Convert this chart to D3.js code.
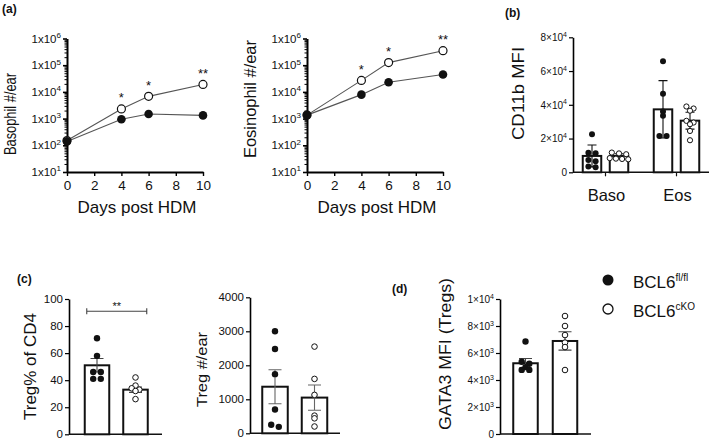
<!DOCTYPE html>
<html><head><meta charset="utf-8">
<script src="https://cdn.jsdelivr.net/npm/d3@7"></script>
<style>
body{margin:0;background:#fff}
svg{display:block}
text{font-family:"Liberation Sans",Arial,Helvetica,sans-serif;fill:#111}
</style>
</head><body>
<svg id="c" width="709" height="442"></svg>
<script>
// ---------------- DATA ----------------
const days = [0, 4, 6, 10];
const dayTicks = [0, 2, 4, 6, 8, 10];
const logTicks = [1e1, 1e2, 1e3, 1e4, 1e5, 1e6];
const basoFl = [140, 950, 1480, 1320];
const basoKO = [150, 2300, 6800, 19000];
const eosFl = [1350, 7900, 23000, 45000];
const eosKO = [1350, 27000, 125000, 350000];
const starDays = [4, 6, 10];
const basoStars = ["*", "*", "**"];
const eosStars = ["*", "*", "**"];

const genotypes = ["fl/fl", "cKO"];
const cellTypes = ["Baso", "Eos"];
const cd11bTicks = [0, 20000, 40000, 60000, 80000];
const cd11bMeanFl = [9700, 37300];
const cd11bMeanKO = [9700, 30600];
const cd11bSdFl = [6500, 17000];
const cd11bSdKO = [1300, 5000];
const cd11bPtsFl = [[22500, 11600, 11300, 7300, 6500, 3000, 3400], [65800, 46500, 36000, 33500, 21500, 21500]];
const cd11bPtsKO = [[11700, 11200, 10700, 8400, 8100, 7900, 7700], [39000, 37800, 36500, 30500, 29500, 28500, 24500, 19000]];

const tregPctTicks = [0, 20, 40, 60, 80, 100];
const tregPctMean = [51, 33];
const tregPctSem = [5, 2];
const tregPctFl = [71, 58, 46, 46, 41, 41];
const tregPctKO = [42, 36, 34, 33, 32, 26];
const tregPctSig = "**";

const tregNumTicks = [0, 1000, 2000, 3000, 4000];
const tregNumMean = [1370, 1050];
const tregNumSem = [500, 370];
const tregNumFl = [3000, 2480, 1740, 700, 250, 190];
const tregNumKO = [2550, 1600, 1130, 520, 440, 200];

const gata3Ticks = [0, 2000, 4000, 6000, 8000, 10000];
const gata3Mean = [5240, 6890];
const gata3Sem = [350, 680];
const gata3Fl = [6850, 5350, 5200, 4950, 4750, 4750];
const gata3KO = [8740, 8000, 7330, 6770, 6440, 4740];

const legendBase = "BCL6";
const legendSup = ["fl/fl", "cKO"];

// ---------------- HELPERS ----------------
const svg = d3.select("#c");
const FONT = '"Liberation Sans", Arial, Helvetica, sans-serif';

function vLabel(txt, cx, cy, fs, len) {
  const t = svg.append("text")
    .attr("transform", `translate(${cx + 0.36 * fs},${cy}) rotate(-90)`)
    .attr("text-anchor", "middle").attr("font-size", fs).text(txt);
  if (len) t.attr("textLength", len).attr("lengthAdjust", "spacingAndGlyphs");
}
function panelTag(txt, x, y) {
  svg.append("text").attr("x", x).attr("y", y).attr("font-size", 12)
    .attr("font-weight", "bold").text(txt);
}
function sci(sel, sep, fs) {
  sel.each(function (d) {
    const t = d3.select(this);
    t.text(null);
    if (d === 0) { t.text("0"); return; }
    const e = Math.floor(Math.log10(d) + 1e-9);
    const m = Math.round(d / Math.pow(10, e));
    t.append("tspan").text(m + sep + "10");
    t.append("tspan").attr("dy", -fs * 0.42).attr("font-size", fs * 0.7).text(e);
  });
}

// ---------------- PANEL (a) ----------------
function logPanel(cfg) {
  const g = svg.append("g");
  const x = d3.scaleLinear().domain([0, 10]).range([cfg.x0, cfg.x1]);
  const y = d3.scaleLog().domain([10, 1e6]).range([cfg.y0, cfg.y1]);
  const minors = [];
  logTicks.slice(0, -1).forEach(t => { for (let k = 2; k <= 9; k++) minors.push(t * k); });
  g.append("g").attr("transform", `translate(${cfg.x0},0)`)
    .call(d3.axisLeft(y).tickValues(minors).tickSize(2.5).tickFormat(""))
    .call(s => s.select(".domain").remove())
    .selectAll("line").attr("stroke", "#000").attr("stroke-width", 1);
  const ya = g.append("g").attr("transform", `translate(${cfg.x0},0)`)
    .call(d3.axisLeft(y).tickValues(logTicks).tickSize(4).tickSizeOuter(0).tickPadding(2))
    .attr("font-family", FONT).attr("font-size", 11.5);
  ya.select(".domain").attr("stroke-width", 2);
  ya.selectAll(".tick line").attr("stroke-width", 1.6);
  ya.selectAll(".tick text").attr("fill", "#111").call(sci, "x", 11.5);

  const xa = g.append("g").attr("transform", `translate(0,${cfg.y0})`)
    .call(d3.axisBottom(x).tickValues(dayTicks).tickSize(4).tickSizeOuter(0).tickPadding(4))
    .attr("font-family", FONT).attr("font-size", 13.5);
  xa.select(".domain").attr("stroke-width", 2);
  xa.selectAll(".tick line").attr("stroke-width", 1.4);
  xa.selectAll(".tick text").attr("fill", "#111");

  svg.append("text").attr("x", (cfg.x0 + cfg.x1) / 2 + 2).attr("y", 213)
    .attr("text-anchor", "middle").attr("font-size", 17).text("Days post HDM");

  const line = d3.line().x((d, i) => x(days[i])).y(d => y(d));
  [cfg.fl, cfg.ko].forEach(s => {
    g.append("path").attr("d", line(s)).attr("fill", "none")
      .attr("stroke", "#555").attr("stroke-width", 1.1);
  });
  g.selectAll(".pko").data(cfg.ko).join("circle")
    .attr("cx", (d, i) => x(days[i])).attr("cy", d => y(d)).attr("r", 4)
    .attr("fill", "#fff").attr("stroke", "#111").attr("stroke-width", 1.2);
  g.selectAll(".pfl").data(cfg.fl).join("circle")
    .attr("cx", (d, i) => x(days[i])).attr("cy", d => y(d)).attr("r", 4.3)
    .attr("fill", "#111");
  g.selectAll(".star").data(cfg.stars).join("text")
    .attr("x", (d, i) => x(starDays[i]))
    .attr("y", (d, i) => y(cfg.ko[days.indexOf(starDays[i])]) - 6.5)
    .attr("text-anchor", "middle").attr("font-size", 13).text(d => d);
}
panelTag("(a)", 2, 13);
logPanel({ x0: 67, x1: 203, y0: 172, y1: 38.5, fl: basoFl, ko: basoKO, stars: basoStars });
logPanel({ x0: 307, x1: 443, y0: 172, y1: 38.5, fl: eosFl, ko: eosKO, stars: eosStars });
vLabel("Basophil #/ear", 10, 114, 17, 82);
vLabel("Eosinophil #/ear", 250, 99, 16, 118);

// ---------------- BAR PANELS ----------------
function bandFromCenters(domain, c0, c1, bw) {
  const step = c1 - c0;
  return d3.scaleBand().domain(domain).range([c0 - bw / 2, c1 + bw / 2])
    .paddingInner(1 - bw / step).paddingOuter(0);
}
function swarm(vals, y, r, cx, bw) {
  const sorted = vals.map(v => ({ v, py: y(v) })).sort((a, b) => a.py - b.py);
  const rows = [];
  sorted.forEach(p => {
    const last = rows[rows.length - 1];
    if (last && p.py - last[0].py < 2.6) last.push(p); else rows.push([p]);
  });
  const out = [];
  rows.forEach(row => {
    const n = row.length;
    let step = 2 * r + 1.2;
    if (n > 1) step = Math.min(step, (bw - 2 * r) / (n - 1));
    row.forEach((p, i) => out.push({ v: p.v, x: cx + (i - (n - 1) / 2) * step, y: p.py }));
  });
  return out;
}
function yAxis(g, y, ax, ticks, fs, fmt) {
  const a = g.append("g").attr("transform", `translate(${ax},0)`)
    .call(d3.axisLeft(y).tickValues(ticks).tickSize(4).tickSizeOuter(0).tickPadding(2))
    .attr("font-family", FONT).attr("font-size", fs);
  a.select(".domain").attr("stroke-width", 1.6);
  a.selectAll(".tick line").attr("stroke-width", 1.2);
  a.selectAll(".tick text").attr("fill", "#111");
  if (fmt) a.selectAll(".tick text").call(sci, fmt, fs);
  else a.selectAll(".tick text").text(d => d);
  return a;
}
function drawBars(g, y, bars, r) {
  bars.forEach(b => {
    g.append("rect").attr("x", b.x).attr("width", b.w)
      .attr("y", y(b.mean)).attr("height", y(0) - y(b.mean))
      .attr("fill", "#fff").attr("stroke", "#111").attr("stroke-width", 2);
  });
  bars.forEach(b => {
    const cx = b.x + b.w / 2, cw = b.cap;
    const hi = y(b.mean + b.err), lo = y(b.mean - b.err);
    g.append("path").attr("d", `M${cx},${hi}V${lo}M${cx - cw / 2},${hi}H${cx + cw / 2}M${cx - cw / 2},${lo}H${cx + cw / 2}`)
      .attr("stroke", b.ecol).attr("stroke-width", 1.1).attr("fill", "none");
  });
  bars.forEach(b => {
    const pts = swarm(b.pts, y, r, b.x + b.w / 2, b.w + 6);
    g.selectAll(null).data(pts).join("circle")
      .attr("cx", d => d.x).attr("cy", d => d.y).attr("r", b.filled ? r : r - 0.4)
      .attr("fill", b.filled ? "#111" : "#fff").attr("stroke", "#111")
      .attr("stroke-width", b.filled ? 0 : 1);
  });
}

// ----- panel (b)
{
  const g = svg.append("g");
  const y = d3.scaleLinear().domain([0, 80000]).range([172.3, 37.3]);
  const outer = bandFromCenters(cellTypes, 605.5, 676.5, 71);
  const inner = bandFromCenters(genotypes, 22, 49, 18.5);
  yAxis(g, y, 573, cd11bTicks, 10, "×");
  g.append("path").attr("d", `M573,${y(0)}H709`).attr("stroke", "#111").attr("stroke-width", 1.6);
  cellTypes.forEach(c => {
    const cx = outer(c) + outer.bandwidth() / 2;
    g.append("path").attr("d", `M${cx},${y(0)}v4`).attr("stroke", "#111").attr("stroke-width", 1.2);
    svg.append("text").attr("x", cx + 1).attr("y", 201).attr("text-anchor", "middle")
      .attr("font-size", 16.5).text(c);
  });
  const bars = [];
  cellTypes.forEach((c, i) => {
    bars.push({ x: outer(c) + inner("fl/fl"), w: inner.bandwidth(), mean: cd11bMeanFl[i], err: cd11bSdFl[i], pts: cd11bPtsFl[i], filled: true, cap: 9, ecol: "#111" });
    bars.push({ x: outer(c) + inner("cKO"), w: inner.bandwidth(), mean: cd11bMeanKO[i], err: cd11bSdKO[i], pts: cd11bPtsKO[i], filled: false, cap: 9, ecol: "#111" });
  });
  drawBars(g, y, bars, 3);
  panelTag("(b)", 505, 17);
  vLabel("CD11b MFI", 518, 93.5, 17, 93);
}

// ----- panel (c) left
{
  const g = svg.append("g");
  const y = d3.scaleLinear().domain([0, 100]).range([434.3, 299]);
  const xb = bandFromCenters(genotypes, 97, 135.5, 24.5);
  yAxis(g, y, 69, tregPctTicks, 11.5);
  g.append("path").attr("d", `M69,${y(0)}H162`).attr("stroke", "#111").attr("stroke-width", 1.6);
  drawBars(g, y, [
    { x: xb("fl/fl"), w: xb.bandwidth(), mean: tregPctMean[0], err: tregPctSem[0], pts: tregPctFl, filled: true, cap: 13, ecol: "#444" },
    { x: xb("cKO"), w: xb.bandwidth(), mean: tregPctMean[1], err: tregPctSem[1], pts: tregPctKO, filled: false, cap: 13, ecol: "#444" }
  ], 3.2);
  const sy = y(91);
  const x0 = xb("fl/fl") + 2, x1 = xb("cKO") + xb.bandwidth() - 1;
  g.append("path").attr("d", `M${x0},${sy - 3}v6M${x0},${sy}H${x1}M${x1},${sy - 3}v6`)
    .attr("stroke", "#444").attr("stroke-width", 1.1).attr("fill", "none");
  g.append("text").attr("x", (x0 + x1) / 2).attr("y", sy - 1).attr("text-anchor", "middle")
    .attr("font-size", 11).text(tregPctSig);
  panelTag("(c)", 17, 283);
  vLabel("Treg% of CD4", 30, 366.5, 17, 107);
}

// ----- panel (c) right
{
  const g = svg.append("g");
  const y = d3.scaleLinear().domain([0, 4000]).range([433.3, 297.3]);
  const xb = bandFromCenters(genotypes, 275, 314.5, 25.5);
  yAxis(g, y, 250, tregNumTicks, 11.5);
  g.append("path").attr("d", `M250,${y(0)}H340`).attr("stroke", "#111").attr("stroke-width", 1.6);
  drawBars(g, y, [
    { x: xb("fl/fl"), w: xb.bandwidth(), mean: tregNumMean[0], err: tregNumSem[0], pts: tregNumFl, filled: true, cap: 13, ecol: "#666" },
    { x: xb("cKO"), w: xb.bandwidth(), mean: tregNumMean[1], err: tregNumSem[1], pts: tregNumKO, filled: false, cap: 13, ecol: "#666" }
  ], 3.2);
  vLabel("Treg #/ear", 201, 369.5, 15.5, 75);
}

// ----- panel (d)
{
  const g = svg.append("g");
  const y = d3.scaleLinear().domain([0, 10000]).range([434, 299]);
  const xb = bandFromCenters(genotypes, 525.5, 565, 24.5);
  yAxis(g, y, 500, gata3Ticks, 10, "×");
  g.append("path").attr("d", `M500,${y(0)}H591`).attr("stroke", "#111").attr("stroke-width", 1.6);
  drawBars(g, y, [
    { x: xb("fl/fl"), w: xb.bandwidth(), mean: gata3Mean[0], err: gata3Sem[0], pts: gata3Fl, filled: true, cap: 13, ecol: "#444" },
    { x: xb("cKO"), w: xb.bandwidth(), mean: gata3Mean[1], err: gata3Sem[1], pts: gata3KO, filled: false, cap: 13, ecol: "#444" }
  ], 3.2);
  panelTag("(d)", 392, 293);
  vLabel("GATA3 MFI (Tregs)", 445, 354, 16, 152);
}

// ----- legend
legendSup.forEach((s, i) => {
  const yy = 280 + i * 29;
  svg.append("circle").attr("cx", 608).attr("cy", yy).attr("r", i === 0 ? 5.5 : 5)
    .attr("fill", i === 0 ? "#111" : "#fff").attr("stroke", "#111").attr("stroke-width", i === 0 ? 0 : 1.3);
  const t = svg.append("text").attr("x", 633).attr("y", yy + 7.5).attr("font-size", 17);
  t.append("tspan").text(legendBase);
  t.append("tspan").attr("dy", -7).attr("font-size", 10).text(s);
});
</script>
</body></html>
